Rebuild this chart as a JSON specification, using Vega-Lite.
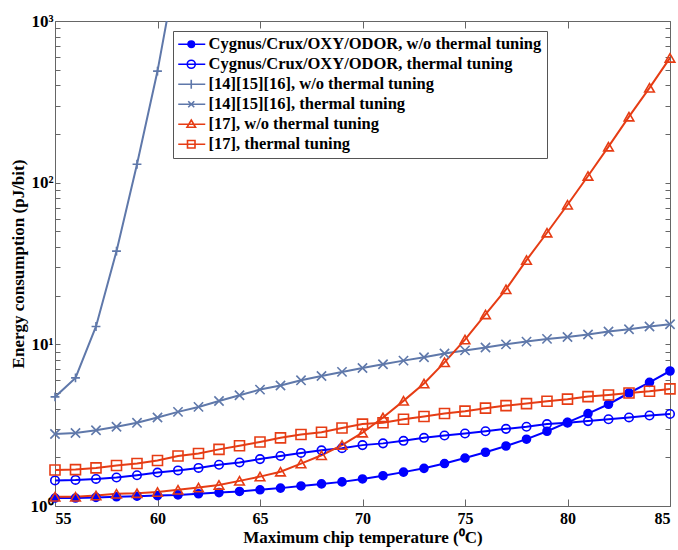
{
  "$schema": "https://vega.github.io/schema/vega-lite/v6.json",
  "width": 615,
  "height": 485,
  "autosize": "none",
  "padding": {"left": 55, "top": 21, "right": 8, "bottom": 44},
  "background": "white",
  "config": {"view": {"stroke": null}, "font": "Liberation Serif"},
  "data": {"values": [
    {"t":55,"e":1.12,"s":"A"},{"t":56,"e":1.12,"s":"A"},{"t":57,"e":1.13,"s":"A"},{"t":58,"e":1.14,"s":"A"},{"t":59,"e":1.15,"s":"A"},{"t":60,"e":1.16,"s":"A"},{"t":61,"e":1.17,"s":"A"},{"t":62,"e":1.19,"s":"A"},{"t":63,"e":1.21,"s":"A"},{"t":64,"e":1.23,"s":"A"},{"t":65,"e":1.26,"s":"A"},{"t":66,"e":1.29,"s":"A"},{"t":67,"e":1.33,"s":"A"},{"t":68,"e":1.37,"s":"A"},{"t":69,"e":1.41,"s":"A"},{"t":70,"e":1.47,"s":"A"},{"t":71,"e":1.54,"s":"A"},{"t":72,"e":1.62,"s":"A"},{"t":73,"e":1.71,"s":"A"},{"t":74,"e":1.83,"s":"A"},{"t":75,"e":1.98,"s":"A"},{"t":76,"e":2.15,"s":"A"},{"t":77,"e":2.35,"s":"A"},{"t":78,"e":2.59,"s":"A"},{"t":79,"e":2.9,"s":"A"},{"t":80,"e":3.29,"s":"A"},{"t":81,"e":3.73,"s":"A"},{"t":82,"e":4.26,"s":"A"},{"t":83,"e":5.0,"s":"A"},{"t":84,"e":5.82,"s":"A"},{"t":85,"e":6.84,"s":"A"},
    {"t":55,"e":1.44,"s":"B"},{"t":56,"e":1.45,"s":"B"},{"t":57,"e":1.47,"s":"B"},{"t":58,"e":1.5,"s":"B"},{"t":59,"e":1.55,"s":"B"},{"t":60,"e":1.61,"s":"B"},{"t":61,"e":1.66,"s":"B"},{"t":62,"e":1.72,"s":"B"},{"t":63,"e":1.8,"s":"B"},{"t":64,"e":1.86,"s":"B"},{"t":65,"e":1.95,"s":"B"},{"t":66,"e":2.04,"s":"B"},{"t":67,"e":2.13,"s":"B"},{"t":68,"e":2.21,"s":"B"},{"t":69,"e":2.28,"s":"B"},{"t":70,"e":2.38,"s":"B"},{"t":71,"e":2.44,"s":"B"},{"t":72,"e":2.53,"s":"B"},{"t":73,"e":2.64,"s":"B"},{"t":74,"e":2.73,"s":"B"},{"t":75,"e":2.81,"s":"B"},{"t":76,"e":2.9,"s":"B"},{"t":77,"e":3.0,"s":"B"},{"t":78,"e":3.09,"s":"B"},{"t":79,"e":3.21,"s":"B"},{"t":80,"e":3.27,"s":"B"},{"t":81,"e":3.35,"s":"B"},{"t":82,"e":3.44,"s":"B"},{"t":83,"e":3.53,"s":"B"},{"t":84,"e":3.63,"s":"B"},{"t":85,"e":3.71,"s":"B"},
    {"t":55,"e":4.73,"s":"C"},{"t":56,"e":6.2,"s":"C"},{"t":57,"e":12.9,"s":"C"},{"t":58,"e":37.7,"s":"C"},{"t":59,"e":130,"s":"C"},{"t":60,"e":490,"s":"C"},{"t":61,"e":2400,"s":"C"},
    {"t":55,"e":2.79,"s":"D"},{"t":56,"e":2.83,"s":"D"},{"t":57,"e":2.94,"s":"D"},{"t":58,"e":3.09,"s":"D"},{"t":59,"e":3.27,"s":"D"},{"t":60,"e":3.53,"s":"D"},{"t":61,"e":3.82,"s":"D"},{"t":62,"e":4.1,"s":"D"},{"t":63,"e":4.46,"s":"D"},{"t":64,"e":4.84,"s":"D"},{"t":65,"e":5.25,"s":"D"},{"t":66,"e":5.56,"s":"D"},{"t":67,"e":5.99,"s":"D"},{"t":68,"e":6.37,"s":"D"},{"t":69,"e":6.75,"s":"D"},{"t":70,"e":7.14,"s":"D"},{"t":71,"e":7.53,"s":"D"},{"t":72,"e":7.93,"s":"D"},{"t":73,"e":8.32,"s":"D"},{"t":74,"e":8.77,"s":"D"},{"t":75,"e":9.17,"s":"D"},{"t":76,"e":9.56,"s":"D"},{"t":77,"e":10.0,"s":"D"},{"t":78,"e":10.4,"s":"D"},{"t":79,"e":10.8,"s":"D"},{"t":80,"e":11.1,"s":"D"},{"t":81,"e":11.5,"s":"D"},{"t":82,"e":12.0,"s":"D"},{"t":83,"e":12.4,"s":"D"},{"t":84,"e":12.9,"s":"D"},{"t":85,"e":13.3,"s":"D"},
    {"t":55,"e":1.14,"s":"E"},{"t":56,"e":1.14,"s":"E"},{"t":57,"e":1.16,"s":"E"},{"t":58,"e":1.19,"s":"E"},{"t":59,"e":1.2,"s":"E"},{"t":60,"e":1.22,"s":"E"},{"t":61,"e":1.26,"s":"E"},{"t":62,"e":1.3,"s":"E"},{"t":63,"e":1.35,"s":"E"},{"t":64,"e":1.43,"s":"E"},{"t":65,"e":1.52,"s":"E"},{"t":66,"e":1.63,"s":"E"},{"t":67,"e":1.83,"s":"E"},{"t":68,"e":2.06,"s":"E"},{"t":69,"e":2.38,"s":"E"},{"t":70,"e":2.84,"s":"E"},{"t":71,"e":3.53,"s":"E"},{"t":72,"e":4.47,"s":"E"},{"t":73,"e":5.72,"s":"E"},{"t":74,"e":7.74,"s":"E"},{"t":75,"e":10.7,"s":"E"},{"t":76,"e":15.3,"s":"E"},{"t":77,"e":21.9,"s":"E"},{"t":78,"e":33.2,"s":"E"},{"t":79,"e":49,"s":"E"},{"t":80,"e":73,"s":"E"},{"t":81,"e":110,"s":"E"},{"t":82,"e":167,"s":"E"},{"t":83,"e":256,"s":"E"},{"t":84,"e":386,"s":"E"},{"t":85,"e":591,"s":"E"},
    {"t":55,"e":1.67,"s":"F"},{"t":56,"e":1.68,"s":"F"},{"t":57,"e":1.72,"s":"F"},{"t":58,"e":1.78,"s":"F"},{"t":59,"e":1.83,"s":"F"},{"t":60,"e":1.91,"s":"F"},{"t":61,"e":2.04,"s":"F"},{"t":62,"e":2.11,"s":"F"},{"t":63,"e":2.24,"s":"F"},{"t":64,"e":2.36,"s":"F"},{"t":65,"e":2.49,"s":"F"},{"t":66,"e":2.64,"s":"F"},{"t":67,"e":2.77,"s":"F"},{"t":68,"e":2.86,"s":"F"},{"t":69,"e":3.04,"s":"F"},{"t":70,"e":3.21,"s":"F"},{"t":71,"e":3.27,"s":"F"},{"t":72,"e":3.44,"s":"F"},{"t":73,"e":3.58,"s":"F"},{"t":74,"e":3.73,"s":"F"},{"t":75,"e":3.86,"s":"F"},{"t":76,"e":4.03,"s":"F"},{"t":77,"e":4.18,"s":"F"},{"t":78,"e":4.3,"s":"F"},{"t":79,"e":4.45,"s":"F"},{"t":80,"e":4.58,"s":"F"},{"t":81,"e":4.75,"s":"F"},{"t":82,"e":4.86,"s":"F"},{"t":83,"e":5.0,"s":"F"},{"t":84,"e":5.13,"s":"F"},{"t":85,"e":5.3,"s":"F"}
  ]},
  "layer": [
    {
      "mark": {"type": "line", "clip": true},
      "encoding": {
        "x": {"field": "t", "type": "quantitative",
          "scale": {"domain": [55, 85], "nice": false, "zero": false},
          "axis": {"orient": "bottom", "values": [55,60,65,70,75,80,85], "grid": false,
            "labelFont": "Liberation Serif", "labelFontWeight": "bold", "labelFontSize": 16, "labelColor": "black",
            "labelPadding": 11, "tickSize": -7, "tickColor": "#666", "domainColor": "#666",
            "title": "Maximum chip temperature (⁰C)", "titleFont": "Liberation Serif", "titleFontWeight": "bold",
            "titleFontSize": 17, "titleColor": "black", "titlePadding": 3}},
        "y": {"field": "e", "type": "quantitative",
          "scale": {"type": "log", "domain": [1, 1000], "nice": false},
          "axis": {"orient": "left", "grid": false,
            "values": [1,2,3,4,5,6,7,8,9,10,20,30,40,50,60,70,80,90,100,200,300,400,500,600,700,800,900,1000],
            "labelExpr": "datum.value==1?'10⁰':datum.value==10?'10¹':datum.value==100?'10²':datum.value==1000?'10³':''",
            "labelFont": "Liberation Serif", "labelFontWeight": "bold", "labelFontSize": 17, "labelColor": "black",
            "labelPadding": 7, "tickSize": -5, "tickColor": "#666", "domainColor": "#666",
            "title": "Energy consumption (pJ/bit)", "titleFont": "Liberation Serif", "titleFontWeight": "bold",
            "titleFontSize": 17, "titleColor": "black", "titlePadding": 3}},
        "stroke": {"field": "s", "type": "nominal",
          "scale": {"domain": ["A","B","C","D","E","F"], "range": ["#0000ff","#0000ff","#5f78aa","#5f78aa","#e63c14","#e63c14"]},
          "legend": null},
        "strokeWidth": {"field": "s", "type": "nominal",
          "scale": {"domain": ["A","B","C","D","E","F"], "range": [2,2,1.6,1.6,1.6,1.6]},
          "legend": null}
      }
    },
    {
      "transform": [{"filter": "datum.e <= 1000"}],
      "mark": {"type": "point", "strokeWidth": 1.6, "opacity": 1},
      "encoding": {
        "x": {"field": "t", "type": "quantitative",
          "axis": {"orient": "top", "values": [55,60,65,70,75,80,85], "grid": false, "labels": false, "title": null,
            "tickSize": -7, "tickColor": "#666", "domainColor": "#666"}},
        "y": {"field": "e", "type": "quantitative",
          "axis": {"orient": "right", "grid": false, "labels": false, "title": null,
            "values": [1,2,3,4,5,6,7,8,9,10,20,30,40,50,60,70,80,90,100,200,300,400,500,600,700,800,900,1000],
            "tickSize": -5, "tickColor": "#666", "domainColor": "#666"}},
        "stroke": {"field": "s", "type": "nominal",
          "scale": {"domain": ["A","B","C","D","E","F"], "range": ["#0000ff","#0000ff","#5f78aa","#5f78aa","#e63c14","#e63c14"]},
          "legend": null},
        "fill": {"field": "s", "type": "nominal",
          "scale": {"domain": ["A","B","C","D","E","F"], "range": ["#0000ff","transparent","transparent","transparent","transparent","transparent"]},
          "legend": null},
        "size": {"field": "s", "type": "nominal",
          "scale": {"domain": ["A","B","C","D","E","F"], "range": [64,100,100,64,100,100]},
          "legend": null},
        "shape": {"field": "s", "type": "nominal",
          "scale": {"domain": ["A","B","C","D","E","F"], "range": ["circle","circle","M-1,0H1M0,-1V1","M-1,-1L1,1M-1,1L1,-1","triangle-up","square"]},
          "legend": null}
      }
    },
    {
      "transform": [{"filter": "datum.t == 55"}],
      "mark": {"type": "point", "strokeWidth": 1.6, "opacity": 0, "size": 100},
      "encoding": {
        "x": {"field": "t", "type": "quantitative", "axis": null},
        "y": {"field": "e", "type": "quantitative", "axis": null},
        "stroke": {"field": "s", "type": "nominal",
          "scale": {"domain": ["A","B","C","D","E","F"], "range": ["#0000ff","#0000ff","#5f78aa","#5f78aa","#e63c14","#e63c14"]}},
        "fill": {"field": "s", "type": "nominal",
          "scale": {"domain": ["A","B","C","D","E","F"], "range": ["#0000ff","transparent","transparent","transparent","transparent","transparent"]}},
        "shape": {"field": "s", "type": "nominal",
          "scale": {"domain": ["A","B","C","D","E","F"], "range": ["M-1.6,0H3.8M1.65,0A0.65,0.65,0,1,1,0.35,0A0.65,0.65,0,1,1,1.65,0Z","M-1.6,0H3.8M1.8,0A0.8,0.8,0,1,1,0.2,0A0.8,0.8,0,1,1,1.8,0Z","M-1.6,0H3.8M1,-0.9V0.9","M-1.6,0H3.8M0.4,-0.6L1.6,0.6M0.4,0.6L1.6,-0.6","M-1.6,0H3.8M1,-0.85L1.85,0.6L0.15,0.6Z","M-1.6,0H3.8M0.25,-0.75H1.75V0.75H0.25Z"]},
          "legend": {
            "orient": "none", "legendX": 118, "legendY": 10, "title": null, "direction": "vertical",
            "labelFont": "Liberation Serif", "labelFontWeight": "bold", "labelFontSize": 16.5, "labelColor": "black",
            "labelLimit": 600, "labelOffset": 14,
            "labelExpr": "datum.value=='A'?'Cygnus/Crux/OXY/ODOR, w/o thermal tuning':datum.value=='B'?'Cygnus/Crux/OXY/ODOR, thermal tuning':datum.value=='C'?'[14][15][16], w/o thermal tuning':datum.value=='D'?'[14][15][16], thermal tuning':datum.value=='E'?'[17], w/o thermal tuning':'[17], thermal tuning'",
            "symbolSize": 100, "symbolStrokeWidth": 1.6, "symbolOpacity": 1,
            "padding": 5, "rowPadding": 3, "strokeColor": "#555", "fillColor": "white", "cornerRadius": 0
          }}
      }
    }
  ],
  "resolve": {
    "axis": {"x": "independent", "y": "independent"},
    "scale": {"shape": "independent", "stroke": "independent", "fill": "independent"}
  }
}
